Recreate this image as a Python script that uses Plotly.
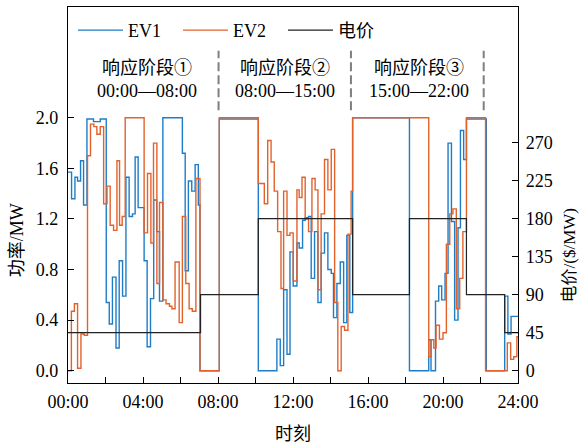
import plotly.graph_objects as go

# ---------------- data ----------------
hours_ev1 = [0, 0.19, 0.37, 0.51, 0.67, 0.83, 1.01, 1.36, 1.72, 2.04,
             2.20, 2.37, 2.56, 2.73, 2.91, 3.09, 3.26, 3.44, 3.58, 3.74,
             4.06, 4.22, 4.40, 4.57, 4.73, 4.88, 5.06, 6.10, 6.25, 6.42,
             6.60, 6.78, 6.95, 7.04, 8.07, 10.15, 11.14, 11.32, 11.50, 11.68,
             11.84, 12.01, 12.21, 12.33, 12.51, 12.65, 12.83, 12.97, 13.15, 13.33,
             13.50, 13.68, 13.86, 14.04, 14.16, 14.34, 14.52, 14.70, 14.87, 15.03,
             15.18, 18.21, 19.24, 19.36, 19.60, 19.77, 19.93, 20.11, 20.27, 20.45,
             20.62, 20.80, 20.93, 21.10, 21.25, 22.31, 23.29, 23.46, 23.63, 24.0]
ev1 = [1.57, 1.36, 1.53, 1.50, 1.66, 1.31, 1.99, 1.97, 1.99, 0.54,
       0.37, 0.74, 0.18, 0.87, 0.59, 1.53, 1.22, 1.24, 1.69, 1.29,
       0.87, 0.19, 0.57, 1.35, 1.10, 0.55, 2.0, 1.72, 0.79, 1.50,
       1.42, 1.63, 1.31, 0.0, 1.99, 0.0, 0.25, 0.04, 0.64, 0.13,
       0.94, 0.67, 1.01, 0.97, 1.19, 1.21, 1.22, 0.73, 1.10, 0.54,
       0.93, 1.09, 0.80, 0.77, 0.42, 0.69, 0.86, 0.38, 1.07, 0.46,
       2.0, 0.0, 0.245, 0.0, 0.55, 0.67, 0.56, 0.77, 1.80, 1.18,
       0.40, 1.13, 1.90, 1.67, 1.99, 0.0, 0.59, 0.29, 0.43, 0.43]

hours_ev2 = [0, 0.18, 0.34, 0.51, 0.69, 0.87, 1.04, 1.20, 1.38, 1.54,
             1.72, 1.90, 2.08, 2.25, 2.43, 2.61, 2.75, 2.89, 3.05, 4.06,
             4.24, 4.42, 4.56, 4.74, 4.88, 5.06, 5.23, 5.41, 5.54, 5.71,
             5.93, 6.10, 6.28, 6.46, 6.63, 6.82, 7.04, 8.07, 10.15, 10.47,
             10.65, 10.83, 11.00, 11.18, 11.36, 11.50, 11.68, 11.84, 12.01, 12.21,
             12.33, 12.48, 12.65, 12.83, 13.01, 13.18, 13.33, 13.50, 13.68, 13.86,
             14.04, 14.22, 14.39, 14.57, 14.75, 14.93, 15.10, 15.18, 19.24, 19.36,
             19.51, 19.63, 19.81, 20.00, 20.18, 20.36, 20.53, 20.71, 20.89, 21.06,
             21.25, 22.27, 23.43, 23.61, 23.77, 23.94, 24.0]
ev2 = [0.0, 0.47, 0.53, 0.02, 0.29, 0.28, 1.70, 1.95, 1.93, 1.87,
       1.93, 1.32, 1.46, 1.15, 1.11, 1.66, 1.15, 1.22, 2.0, 1.09,
       1.56, 1.01, 1.80, 0.69, 1.33, 0.56, 0.53, 0.51, 0.49, 0.86,
       0.38, 1.22, 0.69, 0.49, 0.47, 1.52, 0.0, 2.0, 1.48, 1.32,
       1.82, 1.65, 1.42, 1.10, 0.65, 1.42, 1.07, 1.09, 0.71, 1.43,
       1.37, 1.53, 1.20, 1.10, 1.52, 1.43, 0.64, 1.24, 1.67, 1.43,
       1.75, 0.54, 0.0, 0.35, 0.32, 1.08, 1.42, 2.0, 0.11, 0.245,
       0.18, 0.36, 0.25, 0.30, 1.0, 1.24, 1.28, 0.49, 0.73, 1.10,
       2.0, 0.0, 0.22, 0.09, 0.11, 0.27, 0.27]

price_hours = [0, 7.07, 10.15, 15.18, 18.21, 21.25, 23.29, 24.0]
price = [45, 90, 180, 90, 180, 90, 45, 45]

x_tick_vals = [0, 2, 4, 6, 8, 10, 12, 14, 16, 18, 20, 22, 24]
x_tick_text = ["00:00", "", "04:00", "", "08:00", "", "12:00", "", "16:00", "", "20:00", "", "24:00"]
y1_ticks = [0.0, 0.4, 0.8, 1.2, 1.6, 2.0]
y2_ticks = [0, 45, 90, 135, 180, 225, 270]

stage_labels = ["响应阶段①<br>00:00—08:00", "响应阶段②<br>08:00—15:00", "响应阶段③<br>15:00—22:00"]
stage_centers = [4.21, 11.55, 18.72]
stage_bounds = [8.03, 15.09, 22.17]

# ---------------- style ----------------
FONT = "Liberation Serif, 'Times New Roman', 'Noto Sans CJK SC', serif"
BLUE = "#1E7DC8"
ORANGE = "#E2622C"
BLACK = "#222222"

fig = go.Figure()
fig.add_trace(go.Scatter(x=hours_ev1, y=ev1, mode="lines", name="EV1",
                         line=dict(shape="hv", color=BLUE, width=1.4)))
fig.add_trace(go.Scatter(x=hours_ev2, y=ev2, mode="lines", name="EV2",
                         line=dict(shape="hv", color=ORANGE, width=1.4)))
fig.add_trace(go.Scatter(x=price_hours, y=price, mode="lines", name="电价", yaxis="y2",
                         line=dict(shape="hv", color=BLACK, width=1.2)))

for xb in stage_bounds:
    fig.add_shape(type="line", xref="x", yref="y", x0=xb, x1=xb, y0=2.06, y1=2.53,
                  line=dict(color="#7f7f7f", width=2, dash="9px,4px"))

for lab, xc in zip(stage_labels, stage_centers):
    fig.add_annotation(x=xc, y=2.30, xref="x", yref="y", text=lab, showarrow=False,
                       xanchor="center", yanchor="middle", font=dict(size=18, color="black", family=FONT))

fig.add_annotation(x=-0.113, y=0.38, xref="paper", yref="paper", text="功率/MW", textangle=-90,
                   showarrow=False, xanchor="center", yanchor="middle", font=dict(size=18, color="black", family=FONT))
fig.add_annotation(x=1.1145, y=0.338, xref="paper", yref="paper", text="电价/($/MW)", textangle=-90,
                   showarrow=False, xanchor="center", yanchor="middle", font=dict(size=17, color="black", family=FONT))
fig.add_annotation(x=0.5, y=-0.1356, xref="paper", yref="paper", text="时刻",
                   showarrow=False, xanchor="center", yanchor="middle", font=dict(size=18, color="black", family=FONT))

fig.update_layout(
    width=580, height=444,
    margin=dict(l=68, r=62, t=7, b=61),
    paper_bgcolor="white", plot_bgcolor="white",
    font=dict(family=FONT, size=18, color="black"),
    showlegend=True,
    legend=dict(orientation="h", x=0.0111, y=0.987, xanchor="left", yanchor="top",
                bgcolor="rgba(0,0,0,0)", borderwidth=0, font=dict(size=18, family=FONT),
                itemwidth=45, entrywidth=45, entrywidthmode="pixels", tracegroupgap=0),
    xaxis=dict(range=[0, 24], tickvals=x_tick_vals, ticktext=x_tick_text, ticks="inside", ticklen=6,
               tickwidth=1.2, tickcolor="black", showline=True, linecolor="black", linewidth=1.3,
               mirror=True, showgrid=False, zeroline=False, ticklabelstandoff=2),
    yaxis=dict(range=[-0.097, 2.876], tickvals=y1_ticks, tickformat=".1f", ticks="inside", ticklen=6,
               tickwidth=1.2, tickcolor="black", showline=True, linecolor="black", linewidth=1.3,
               showgrid=False, zeroline=False, ticklabelstandoff=5),
    yaxis2=dict(range=[-14.57, 430.7], tickvals=y2_ticks, ticks="inside", ticklen=6, overlaying="y",
                side="right", tickwidth=1.2, tickcolor="black", showline=True, linecolor="black",
                linewidth=1.3, showgrid=False, zeroline=False, ticklabelstandoff=3),
)

fig.write_html("out.html")
